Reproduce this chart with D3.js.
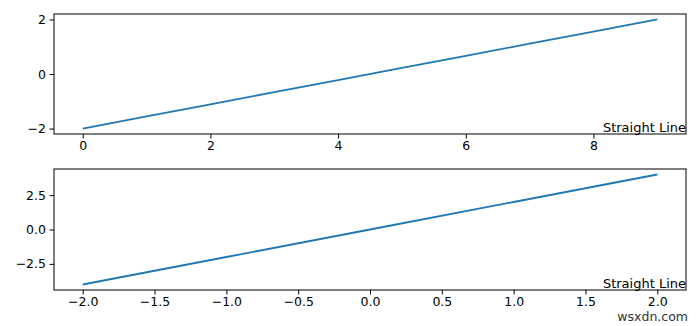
<!DOCTYPE html>
<head>
<meta charset="utf-8">
<script src="https://d3js.org/d3.v7.min.js"></script>
<style>
body { margin: 0; background: #fff; }
svg text { font-family: "DejaVu Sans", sans-serif; }
.tick text { font-size: 12.5px; fill: #000; }
.tick line { stroke: #000; stroke-width: 1px; }
.domain { display: none; }
</style>
</head>
<body>
<svg id="chart" width="700" height="326"></svg>
<script>

// top panel
var x1 = [0, 1, 2, 3, 4, 5, 6, 7, 8, 9];
var y1 = [-2, -1.556, -1.111, -0.667, -0.222, 0.222, 0.667, 1.111, 1.556, 2];
var xTicks1 = [0, 2, 4, 6, 8];
var yTicks1 = [-2, 0, 2];

// bottom panel
var x2 = [-2, -1, 0, 1, 2];
var y2 = [-4, -2, 0, 2, 4];
var xTicks2 = [-2, -1.5, -1, -0.5, 0, 0.5, 1, 1.5, 2];
var yTicks2 = [-2.5, 0, 2.5];

var label = "Straight Line";

var svg = d3.select("#chart");
var minus = s => s.replace("-", "\u2212");

function panel(top, bottom, xs, ys, xt, yt, xfmt, yfmt) {
	var left = 54, right = 686;
	var xpad = (d3.max(xs) - d3.min(xs)) * 0.05,
		ypad = (d3.max(ys) - d3.min(ys)) * 0.05;

	var x = d3.scaleLinear()
		.domain([d3.min(xs) - xpad, d3.max(xs) + xpad])
		.range([left, right]);
	var y = d3.scaleLinear()
		.domain([d3.min(ys) - ypad, d3.max(ys) + ypad])
		.range([bottom, top]);

	var g = svg.append("g");

	g.append("path")
		.datum(xs.map((d, i) => [d, ys[i]]))
		.attr("fill", "none")
		.attr("stroke", "#1f77b4")
		.attr("stroke-width", 1.8)
		.attr("d", d3.line().x(d => x(d[0])).y(d => y(d[1])));

	g.append("g")
		.attr("transform", "translate(0," + bottom + ")")
		.call(d3.axisBottom(x).tickValues(xt).tickSize(4.5).tickPadding(3)
			.tickFormat(d => minus(d3.format(xfmt)(d))));

	g.append("g")
		.attr("transform", "translate(" + left + ",0)")
		.call(d3.axisLeft(y).tickValues(yt).tickSize(4.5).tickPadding(3.5)
			.tickFormat(d => minus(d3.format(yfmt)(d))));

	g.append("rect")
		.attr("x", left).attr("y", top)
		.attr("width", right - left).attr("height", bottom - top)
		.attr("fill", "none")
		.attr("stroke", "#000")
		.attr("stroke-width", 1);

	g.append("text")
		.attr("x", right)
		.attr("y", bottom - 2)
		.attr("text-anchor", "end")
		.attr("font-size", 13)
		.text(label);
}

panel(14, 134, x1, y1, xTicks1, yTicks1, "d", "d");
panel(169, 290, x2, y2, xTicks2, yTicks2, ".1f", ".1f");

svg.append("text")
	.attr("x", 688)
	.attr("y", 321)
	.attr("text-anchor", "end")
	.attr("font-family", "Liberation Sans, Arial, sans-serif")
	.attr("font-size", 12.5)
	.attr("fill", "#333")
	.text("wsxdn.com");

</script>
</body>
